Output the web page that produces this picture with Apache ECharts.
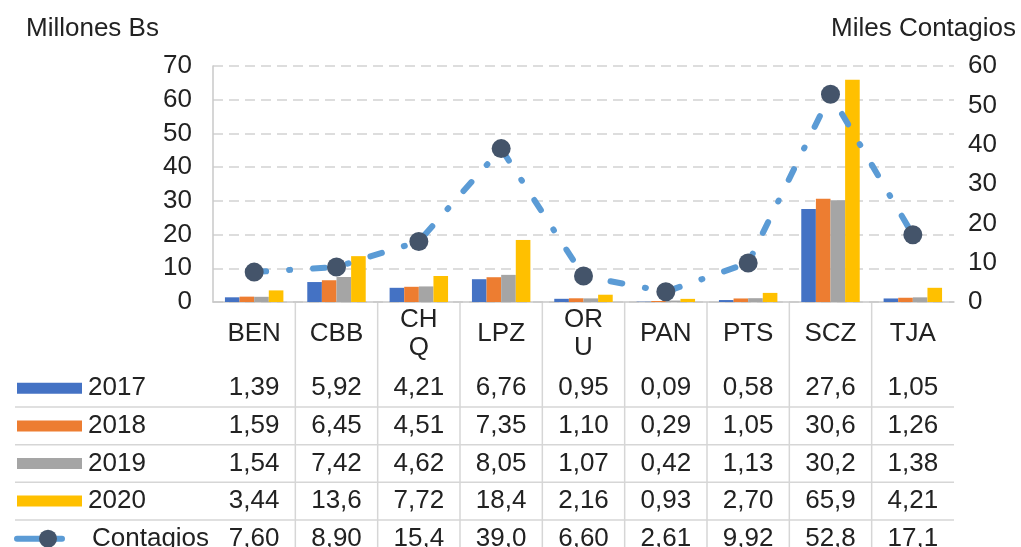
<!DOCTYPE html>
<html>
<head>
<meta charset="utf-8">
<script src="https://cdn.jsdelivr.net/npm/echarts@6/dist/echarts.min.js"></script>
<style>
html,body{margin:0;padding:0;background:#fff}
#main{width:1021px;height:547px}
</style>
</head>
<body>
<div id="main"></div>
<script>
// datos
var categories = ['BEN', 'CBB', 'CHQ', 'LPZ', 'ORU', 'PAN', 'PTS', 'SCZ', 'TJA'];
var headerLabels = ['BEN', 'CBB', 'CH\nQ', 'LPZ', 'OR\nU', 'PAN', 'PTS', 'SCZ', 'TJA'];
var data2017 = [1.39, 5.92, 4.21, 6.76, 0.95, 0.09, 0.58, 27.6, 1.05];
var data2018 = [1.59, 6.45, 4.51, 7.35, 1.10, 0.29, 1.05, 30.6, 1.26];
var data2019 = [1.54, 7.42, 4.62, 8.05, 1.07, 0.42, 1.13, 30.2, 1.38];
var data2020 = [3.44, 13.6, 7.72, 18.4, 2.16, 0.93, 2.70, 65.9, 4.21];
var contagios = [7.60, 8.90, 15.4, 39.0, 6.60, 2.61, 9.92, 52.8, 17.1];
var leftMax = 70, rightMax = 60, tickStep = 10;

var colors = ['#4472C4', '#ED7D31', '#A5A5A5', '#FFC000'];
var lineColor = '#5B9BD5', dotColor = '#44546A';
var font = '"Liberation Sans", Arial, sans-serif';
var txt = '#222';
var fs = 26;

var myChart = echarts.init(document.getElementById('main'));

var barSeries = function(name, data, i){
	return {
		type: 'bar', name: name, data: data,
		itemStyle: { color: colors[i] },
		barGap: '0%', barCategoryGap: '29%'
	};
};

var option = {
	animation: false,
	title: [
		{ text: 'Millones Bs', left: 21, top: 11, textStyle: { fontFamily: font, fontSize: fs, fontWeight: 'normal', color: txt } },
		{ text: 'Miles Contagios', right: 0, top: 11, textStyle: { fontFamily: font, fontSize: fs, fontWeight: 'normal', color: txt } }
	],
	grid: { left: 213, right: 67, top: 66, bottom: 245 },
	xAxis: {
		type: 'category', data: categories,
		axisLine: { lineStyle: { color: '#C8C8C8', width: 1.5 } },
		axisTick: { show: false },
		axisLabel: { show: false }
	},
	yAxis: [
		{
			type: 'value', min: 0, max: leftMax, interval: tickStep,
			axisLine: { show: true, lineStyle: { color: '#C8C8C8', width: 1.5 } },
			axisTick: { show: false },
			axisLabel: { margin: 21, fontFamily: font, fontSize: fs, color: txt },
			splitLine: { lineStyle: { color: '#D2D2D2', width: 1.5, type: [10, 6] } }
		},
		{
			type: 'value', min: 0, max: rightMax, interval: tickStep,
			axisLine: { show: false },
			axisTick: { show: false },
			axisLabel: { margin: 14, fontFamily: font, fontSize: fs, color: txt },
			splitLine: { show: false }
		}
	],
	series: [
		barSeries('2017', data2017, 0),
		barSeries('2018', data2018, 1),
		barSeries('2019', data2019, 2),
		barSeries('2020', data2020, 3),
		{
			type: 'line', name: 'Contagios', data: contagios, yAxisIndex: 1,
			symbol: 'circle', symbolSize: 19,
			itemStyle: { color: dotColor },
			lineStyle: { color: lineColor, width: 6, type: [12, 23, 1, 23], cap: 'round' },
			z: 5
		}
	]
};
myChart.setOption(option);

// tabla de datos
var fmt = function(v){
	return (v < 10 ? v.toFixed(2) : v.toFixed(1)).replace('.', ',');
};
var rows = [
	{ name: '2017', data: data2017, color: colors[0] },
	{ name: '2018', data: data2018, color: colors[1] },
	{ name: '2019', data: data2019, color: colors[2] },
	{ name: '2020', data: data2020, color: colors[3] },
	{ name: 'Contagios', data: contagios, line: true }
];
var x0 = myChart.convertToPixel({ xAxisIndex: 0 }, categories[0]);
var x1 = myChart.convertToPixel({ xAxisIndex: 0 }, categories[1]);
var band = x1 - x0;
var tableTop = myChart.convertToPixel({ yAxisIndex: 0 }, 0);
var headerY = 334, rowTop = 369.5, rowH = 37.6;
var right = x0 + band * (categories.length - 0.5);
var g = [];
var gridStyle = { stroke: '#D6D6D6', lineWidth: 1.5 };
for (var i = 1; i < categories.length; i++) {
	var xs = x0 + band * (i - 0.5);
	g.push({ type: 'line', shape: { x1: xs, y1: tableTop, x2: xs, y2: 547 }, style: gridStyle, silent: true });
}
for (var r = 1; r < rows.length; r++) {
	var ys = rowTop + rowH * r;
	g.push({ type: 'line', shape: { x1: 15, y1: ys, x2: right, y2: ys }, style: gridStyle, silent: true });
}
for (var i = 0; i < categories.length; i++) {
	var cx = x0 + band * i;
	g.push({ type: 'text', x: cx, y: headerY, style: { text: headerLabels[i], fontFamily: font, fontSize: fs, fill: txt, align: 'center', verticalAlign: 'middle', lineHeight: 28 }, silent: true });
	for (var r = 0; r < rows.length; r++) {
		g.push({ type: 'text', x: cx, y: rowTop + rowH * (r + 0.5), style: { text: fmt(rows[r].data[i]), fontFamily: font, fontSize: fs, fill: txt, align: 'center', verticalAlign: 'middle' }, silent: true });
	}
}
for (var r = 0; r < rows.length; r++) {
	var cy = rowTop + rowH * (r + 0.5);
	if (rows[r].line) {
		g.push({ type: 'line', shape: { x1: 17, y1: cy, x2: 62, y2: cy }, style: { stroke: lineColor, lineWidth: 6, lineCap: 'round' }, silent: true });
		g.push({ type: 'circle', shape: { cx: 48, cy: cy, r: 9 }, style: { fill: dotColor }, silent: true });
		g.push({ type: 'text', x: 92, y: cy, style: { text: rows[r].name, fontFamily: font, fontSize: fs, fill: txt, verticalAlign: 'middle' }, silent: true });
	} else {
		g.push({ type: 'rect', shape: { x: 17, y: cy - 5.5, width: 65, height: 11 }, style: { fill: rows[r].color }, silent: true });
		g.push({ type: 'text', x: 88, y: cy, style: { text: rows[r].name, fontFamily: font, fontSize: fs, fill: txt, verticalAlign: 'middle' }, silent: true });
	}
}
myChart.setOption({ graphic: g });
</script>
</body>
</html>
